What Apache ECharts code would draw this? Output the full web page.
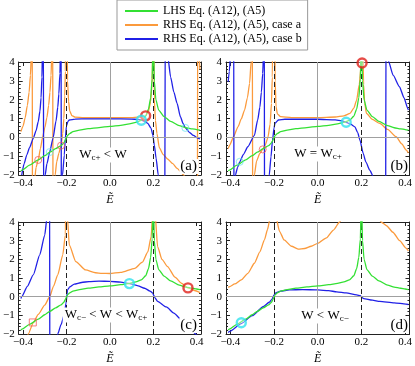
<!DOCTYPE html>
<html>
<head>
<meta charset="utf-8">
<script src="https://cdn.jsdelivr.net/npm/echarts@6/dist/echarts.min.js"></script>
<style>
html, body { margin: 0; padding: 0; background: #fff; }
#main { width: 415px; height: 366px; }
</style>
</head>
<body>
<div id="main"></div>
<script>
// curve data: [E, value]
// LHS is the same in all four panels
var lhsCurve = [
    [-0.41, -1.78], [-0.405, -1.74], [-0.37, -1.48], [-0.33, -1.2], [-0.3, -0.97], [-0.277, -0.79],
    [-0.25, -0.6], [-0.225, -0.44], [-0.212, -0.3], [-0.205, -0.15], [-0.2, -0.02], [-0.195, 0.1],
    [-0.185, 0.2], [-0.17, 0.3], [-0.14, 0.38], [-0.1, 0.46], [-0.05, 0.52], [0, 0.58], [0.05, 0.64],
    [0.09, 0.71], [0.12, 0.79], [0.145, 0.9], [0.165, 1.12], [0.178, 1.5], [0.188, 2.1], [0.195, 3.1],
    [0.199, 5], [0.2, 8], [0.201, 5], [0.205, 3.0], [0.212, 2.0], [0.225, 1.45], [0.25, 1.1],
    [0.28, 0.85], [0.32, 0.62], [0.35, 0.51], [0.38, 0.45], [0.4, 0.41], [0.415, 0.38]
];

// panel (a)
var orangeA = [
    [-0.41, 0.3], [-0.4, 0.6], [-0.39, 1.05], [-0.38, 1.7], [-0.372, 2.4], [-0.366, 3.3], [-0.361, 4.6], [-0.358, 8],
    [-0.356, -8], [-0.352, -3.5], [-0.347, -2.3], [-0.34, -1.6], [-0.33, -1.2], [-0.32, -0.6], [-0.31, 0],
    [-0.3, 0.5], [-0.29, 1.05], [-0.282, 1.7], [-0.276, 2.4], [-0.271, 3.3], [-0.267, 4.6], [-0.264, 8],
    [-0.261, -8], [-0.257, -3.5], [-0.252, -2.0], [-0.245, -1.3], [-0.235, -0.85], [-0.225, -0.44],
    [-0.217, 0.2], [-0.212, 1.0], [-0.208, 2.2], [-0.205, 3.5], [-0.202, 8],
    [-0.198, 8], [-0.195, 3.0], [-0.19, 1.9], [-0.185, 1.4], [-0.175, 1.15], [-0.16, 1.07], [-0.12, 1.04],
    [0, 1.04], [0.1, 1.05], [0.13, 1.07], [0.15, 1.09], [0.165, 1.14], [0.178, 1.4], [0.188, 1.9],
    [0.194, 2.8], [0.198, 4.5], [0.2, 8],
    [0.202, 8], [0.205, 2.0], [0.21, 0.9], [0.217, 0.2], [0.228, -0.55], [0.245, -0.9], [0.266, -1.15],
    [0.29, -1.4], [0.31, -1.65], [0.34, -2.0], [0.365, -2.6], [0.385, -3.5], [0.398, -5], [0.403, -8],
    [0.405, 8], [0.41, 4.5], [0.415, 3.6]
];
var blueA = [
    [-0.406, -2.0], [-0.395, -1.4], [-0.383, -0.94], [-0.37, -0.55], [-0.353, -0.05], [-0.34, 0.35],
    [-0.33, 0.83], [-0.322, 1.4], [-0.317, 2.1], [-0.313, 3.2], [-0.31, 5], [-0.307, 8],
    [-0.304, -8], [-0.302, -3.5], [-0.298, -2.0], [-0.29, -1.4], [-0.277, -0.77], [-0.262, -0.05],
    [-0.248, 0.87], [-0.24, 1.6], [-0.235, 2.3], [-0.23, 3.4], [-0.227, 5], [-0.225, 8],
    [-0.223, -8], [-0.221, -3.5], [-0.218, -2.0], [-0.21, -0.94], [-0.205, -0.05], [-0.2, 0.6],
    [-0.193, 0.85], [-0.187, 0.92], [-0.16, 0.97], [-0.1, 0.98], [0, 0.98], [0.1, 0.97], [0.13, 0.95],
    [0.145, 0.92], [0.16, 0.86], [0.175, 0.74], [0.19, 0.48], [0.198, 0.12], [0.205, -0.41],
    [0.213, -1.11], [0.223, -2.0], [0.235, -3], [0.245, -4.5], [0.252, -8],
    [0.256, 8], [0.26, 6], [0.268, 4.2], [0.28, 3.2], [0.295, 2.4], [0.31, 1.8], [0.325, 1.1],
    [0.338, 0.72], [0.348, 0.5], [0.365, 0.28], [0.385, 0.1], [0.405, -0.04], [0.415, -0.08]
];

// panel (b)
var orangeB = [
    [-0.41, -0.6], [-0.403, -0.41], [-0.385, 0.05], [-0.365, 0.56], [-0.35, 0.98], [-0.335, 1.45],
    [-0.322, 2.1], [-0.312, 2.87], [-0.305, 4], [-0.3, 8],
    [-0.297, -8], [-0.294, -3], [-0.29, -2.0], [-0.28, -1.25], [-0.265, -0.85], [-0.252, -0.64],
    [-0.24, -0.4], [-0.228, 0.0], [-0.218, 0.7], [-0.212, 1.8], [-0.208, 3.2], [-0.204, 8],
    [-0.198, 8], [-0.195, 3.0], [-0.191, 1.63], [-0.185, 1.25], [-0.17, 1.1], [-0.12, 1.05], [0, 1.05],
    [0.08, 1.08], [0.12, 1.14], [0.148, 1.27], [0.165, 1.55], [0.178, 1.98], [0.19, 2.8], [0.2, 4], [0.203, 8],
    [0.206, 8], [0.21, 2.8], [0.215, 1.8], [0.223, 1.27], [0.25, 0.95], [0.284, 0.74], [0.32, 0.42],
    [0.359, 0.03], [0.385, -0.35], [0.404, -0.67], [0.415, -0.82]
];
var blueB = [
    [-0.41, 2.95], [-0.405, 3.5], [-0.398, 4.5], [-0.39, 6], [-0.385, 8],
    [-0.383, -8], [-0.38, -3], [-0.377, -2], [-0.367, -1.6], [-0.357, -1.3], [-0.34, -0.9], [-0.32, -0.5],
    [-0.29, 0.1], [-0.275, 0.92], [-0.265, 1.6], [-0.258, 2.4], [-0.252, 3.4], [-0.248, 4.5], [-0.245, 8],
    [-0.243, -8], [-0.235, -3.5], [-0.228, -2.5], [-0.222, -2], [-0.214, -1.03], [-0.207, -0.14],
    [-0.2, 0.5], [-0.196, 0.74], [-0.18, 0.92], [-0.15, 0.96], [0, 0.96], [0.08, 0.93], [0.11, 0.88],
    [0.13, 0.8], [0.15, 0.7], [0.17, 0.56], [0.183, 0.25], [0.193, -0.14], [0.208, -0.85], [0.22, -1.3],
    [0.238, -1.74], [0.255, -2.1], [0.28, -2.8], [0.3, -4], [0.31, -8],
    [0.313, 8], [0.318, 5], [0.325, 4], [0.345, 3.3], [0.374, 2.69], [0.395, 2.1], [0.412, 1.54], [0.415, 1.45]
];

// panel (c)
var orangeC = [
    [-0.41, -3.5], [-0.39, -2.5], [-0.376, -2.0], [-0.353, -1.4], [-0.33, -0.95], [-0.3, -0.45],
    [-0.277, 0.0], [-0.26, 0.55], [-0.24, 1.17], [-0.217, 2.24], [-0.205, 3.3], [-0.201, 8],
    [-0.198, 8], [-0.195, 4.2], [-0.187, 2.77], [-0.157, 1.88], [-0.112, 1.43], [-0.066, 1.28],
    [-0.036, 1.25], [0, 1.24], [0.05, 1.3], [0.115, 1.52], [0.15, 1.85], [0.175, 2.4], [0.19, 3.2],
    [0.198, 4.5], [0.201, 8],
    [0.204, 8], [0.208, 4.5], [0.22, 2.68], [0.24, 2.0], [0.266, 1.61], [0.3, 1.05], [0.33, 0.72],
    [0.36, 0.47], [0.39, 0.33], [0.415, 0.22]
];
var blueC = [
    [-0.41, -0.1], [-0.406, 0.0], [-0.38, 0.55], [-0.353, 1.17], [-0.323, 2.24], [-0.3, 3.3],
    [-0.29, 4.2], [-0.282, 6], [-0.278, 8],
    [-0.276, -8], [-0.265, -4], [-0.25, -2.6], [-0.24, -2.0], [-0.225, -1.5], [-0.21, -0.97],
    [-0.202, -0.35], [-0.195, 0.36], [-0.185, 0.52], [-0.164, 0.67], [-0.13, 0.76], [-0.096, 0.81],
    [-0.05, 0.83], [0, 0.82], [0.05, 0.78], [0.09, 0.7], [0.13, 0.58], [0.16, 0.45], [0.185, 0.3],
    [0.198, 0.19], [0.203, 0.05], [0.208, -0.06], [0.22, -0.25], [0.26, -0.55], [0.295, -0.88],
    [0.33, -1.25], [0.356, -1.6], [0.38, -1.85], [0.4, -2.05], [0.415, -2.3]
];

// panel (d)
var orangeD = [
    [-0.41, 0.5], [-0.403, 0.54], [-0.38, 0.68], [-0.35, 0.9], [-0.32, 1.25], [-0.29, 1.79],
    [-0.265, 2.4], [-0.244, 3.04], [-0.23, 3.6], [-0.22, 4.1], [-0.21, 5.5], [-0.203, 8],
    [-0.198, 8], [-0.195, 5.5], [-0.19, 4.2], [-0.175, 3.5], [-0.154, 3.04], [-0.12, 2.7], [-0.09, 2.55],
    [-0.06, 2.58], [-0.03, 2.7], [0, 2.86], [0.04, 3.15], [0.072, 3.57], [0.1, 4.0], [0.13, 4.6],
    [0.16, 5.5], [0.2, 8],
    [0.24, 5.5], [0.27, 4.5], [0.29, 4.0], [0.315, 3.8], [0.344, 3.45], [0.375, 3.0], [0.404, 2.6], [0.415, 2.45]
];
var blueD = [
    [-0.41, -1.92], [-0.403, -1.86], [-0.35, -1.44], [-0.3, -1.02], [-0.25, -0.54], [-0.222, -0.3],
    [-0.21, -0.15], [-0.2, 0.1], [-0.19, 0.22], [-0.17, 0.3], [-0.13, 0.36], [-0.07, 0.38], [0, 0.36],
    [0.05, 0.32], [0.087, 0.26], [0.13, 0.2], [0.178, 0.1], [0.195, 0.05], [0.202, -0.04], [0.21, -0.1],
    [0.25, -0.19], [0.284, -0.25], [0.35, -0.33], [0.404, -0.4], [0.415, -0.42]
];

// intersection markers
var bigRedA = [[0.165, 1.14]];
var bigCyanA = [[0.145, 0.91]];
var smallRedA = [[-0.33, -1.2], [-0.225, -0.44]];
var smallCyanA = [[-0.277, -0.78], [0.348, 0.5]];
var bigRedB = [[0.203, 3.95]];
var bigCyanB = [[0.13, 0.8]];
var smallRedB = [[-0.252, -0.64]];
var smallCyanB = [[-0.357, -1.3]];
var bigRedC = [[0.36, 0.47]];
var bigCyanC = [[0.09, 0.7]];
var smallSquareC = [[-0.355, -1.38]];
var bigCyanD = [[-0.35, -1.4]];

var xTicks = [-0.4, -0.2, 0, 0.2, 0.4];
var dashedX = [-0.2, 0.2];
var seriesNames = ['LHS Eq. (A12), (A5)', 'RHS Eq. (A12), (A5), case a', 'RHS Eq. (A12), (A5), case b'];
var panelTags = ['(a)', '(b)', '(c)', '(d)'];

var chart = echarts.init(document.getElementById('main'));
var SERIF = '"Liberation Serif", "DejaVu Serif", serif';
var GREEN = '#33e033', ORANGE = '#fb9a3c', BLUE = '#2020e6', RED = '#e0201a', CYAN = '#2fe2ee';

function fmt(v, d) {
    return (v < 0 ? '\u2212' : '') + Math.abs(v).toFixed(d);
}

var grids = [
    { left: 15, top: 62, width: 186, height: 113 },
    { left: 226, top: 62, width: 186, height: 113 },
    { left: 15, top: 222, width: 186, height: 112 },
    { left: 226, top: 222, width: 186, height: 112 }
];

var panels = [
    { orange: orangeA, blue: blueA, big: [[bigRedA, RED], [bigCyanA, CYAN]], small: [[smallRedA, '#f26060', 'circle'], [smallCyanA, '#6fe6ee', 'circle']] },
    { orange: orangeB, blue: blueB, big: [[bigRedB, RED], [bigCyanB, CYAN]], small: [[smallRedB, '#f26060', 'circle'], [smallCyanB, '#6fe6ee', 'circle']] },
    { orange: orangeC, blue: blueC, big: [[bigRedC, RED], [bigCyanC, CYAN]], small: [[smallSquareC, '#f26060', 'rect']] },
    { orange: orangeD, blue: blueD, big: [[bigCyanD, CYAN]], small: [] }
];

var xAxes = [], yAxes = [], series = [];

grids.forEach(function (g, i) {
    ['bottom', 'top'].forEach(function (pos) {
        xAxes.push({
            type: 'value', gridIndex: i, position: pos, min: -0.42, max: 0.42,
            axisLine: { show: true, onZero: false, lineStyle: { color: '#222', width: 1 } },
            axisTick: { show: true, inside: true, length: 4, customValues: xTicks, lineStyle: { color: '#222' } },
            axisLabel: {
                show: pos === 'bottom', customValues: xTicks, margin: 3,
                formatter: function (v) { return fmt(v, 1); },
                fontFamily: SERIF, fontSize: 11, color: '#000'
            },
            splitLine: { show: false },
            name: pos === 'bottom' ? 'E\u0303' : '',
            nameLocation: 'middle', nameGap: 19,
            nameTextStyle: { fontFamily: SERIF, fontStyle: 'italic', fontSize: 12, color: '#000' }
        });
    });
    ['left', 'right'].forEach(function (pos) {
        yAxes.push({
            type: 'value', gridIndex: i, position: pos, min: -2, max: 4, interval: 1,
            axisLine: { show: true, onZero: false, lineStyle: { color: '#222', width: 1 } },
            axisTick: { show: true, inside: true, length: 4, lineStyle: { color: '#222' } },
            minorTick: { show: true, splitNumber: 5, length: 2, lineStyle: { color: '#222' } },
            axisLabel: {
                show: pos === 'left', margin: 4,
                formatter: function (v) { return fmt(v, 0); },
                fontFamily: SERIF, fontSize: 11, color: '#000'
            },
            splitLine: { show: false }
        });
    });

    var xi = 2 * i, yi = 2 * i;
    // zero lines and the dashed lines at E = +-0.2
    series.push({
        type: 'line', xAxisIndex: xi, yAxisIndex: yi, data: [], silent: true, z: 1,
        markLine: {
            silent: true, symbol: 'none', label: { show: false }, animation: false,
            lineStyle: { color: '#a0a0a0', width: 1, type: 'solid' },
            data: [{ xAxis: 0 }, { yAxis: 0 }]
        }
    });
    series.push({
        type: 'line', xAxisIndex: xi, yAxisIndex: yi, data: [], silent: true, z: 2,
        markLine: {
            silent: true, symbol: 'none', label: { show: false }, animation: false,
            lineStyle: { color: '#222', width: 1, type: [5, 3] },
            data: dashedX.map(function (x) { return { xAxis: x }; })
        }
    });

    var p = panels[i];
    [[p.orange, seriesNames[1], ORANGE], [p.blue, seriesNames[2], BLUE], [lhsCurve, seriesNames[0], GREEN]].forEach(function (c, k) {
        series.push({
            type: 'line', name: c[1], xAxisIndex: xi, yAxisIndex: yi, data: c[0],
            showSymbol: false, smooth: 0.2, smoothMonotone: 'x', clip: true, z: 3 + k,
            lineStyle: { color: c[2], width: 1.3 }, itemStyle: { color: c[2] }
        });
    });
    p.small.forEach(function (m) {
        series.push({
            type: 'scatter', xAxisIndex: xi, yAxisIndex: yi, data: m[0], symbol: m[2], symbolSize: 7, z: 8,
            itemStyle: { color: 'rgba(255,255,255,0)', borderColor: m[1], borderWidth: 1 }
        });
    });
    p.big.forEach(function (m) {
        series.push({
            type: 'scatter', xAxisIndex: xi, yAxisIndex: yi, data: m[0], symbol: 'circle', symbolSize: 9, z: 9,
            itemStyle: { color: 'rgba(255,255,255,0.5)', borderColor: m[1], borderWidth: 2.4 }
        });
    });
});

var subRich = {
    t: { fontFamily: SERIF, fontSize: 13, color: '#000' },
    s: { fontFamily: SERIF, fontSize: 9, color: '#000', padding: [6, 0, 0, 0] }
};
function note(text, cx, cy) {
    return {
        type: 'text', x: cx, y: cy, z: 20,
        style: {
            text: text, rich: subRich, textAlign: 'center', textVerticalAlign: 'middle',
            backgroundColor: '#fff', padding: [0, 2]
        }
    };
}
function tag(text, rx, by) {
    return {
        type: 'text', x: rx, y: by, z: 20,
        style: {
            text: text, fontFamily: SERIF, fontSize: 15, fill: '#000',
            textAlign: 'right', textVerticalAlign: 'bottom', backgroundColor: '#fff', padding: [0, 1]
        }
    };
}

var option = {
    animation: false,
    backgroundColor: '#fff',
    grid: grids,
    xAxis: xAxes,
    yAxis: yAxes,
    series: series,
    legend: {
        data: seriesNames, orient: 'vertical', left: 117, top: 0,
        itemWidth: 33, itemHeight: 2, itemGap: 0, icon: 'rect', selectedMode: false,
        backgroundColor: '#fff', borderColor: '#999', borderWidth: 1, padding: [4, 6, 4, 8],
        textStyle: { fontFamily: SERIF, fontSize: 12, lineHeight: 14, color: '#000' }
    },
    graphic: [
        note('{t|W}{s|c+}{t| < W}', 103, 155),
        note('{t|W = W}{s|c+}', 318, 154),
        note('{t|W}{s|c\u2212}{t| < W < W}{s|c+}', 106, 315),
        note('{t|W < W}{s|c\u2212}', 325, 316),
        tag(panelTags[0], 198, 174),
        tag(panelTags[1], 409, 174),
        tag(panelTags[2], 198, 333),
        tag(panelTags[3], 409, 333)
    ]
};

chart.setOption(option);
</script>
</body>
</html>
